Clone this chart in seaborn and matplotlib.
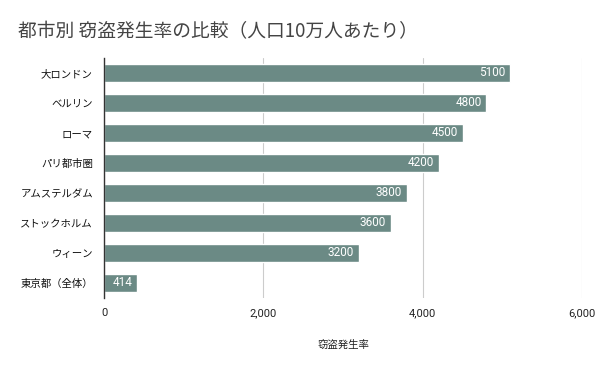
import matplotlib
matplotlib.use('Agg')
import matplotlib.pyplot as plt
import seaborn as sns
import pandas as pd
from matplotlib.ticker import FuncFormatter

# データ
cities = ['大ロンドン', 'ベルリン', 'ローマ', 'パリ都市圏', 'アムステルダム',
          'ストックホルム', 'ウィーン', '東京都（全体）']
rates = [5100, 4800, 4500, 4200, 3800, 3600, 3200, 414]

df = pd.DataFrame({'city': cities, 'rate': rates})

sns.set_theme(style='white')
plt.rcParams['font.family'] = ['Noto Sans CJK JP', 'DejaVu Sans']

fig = plt.figure(figsize=(6, 3.71), dpi=100)
ax = fig.add_axes([104 / 600, 1 - 298 / 371, (582 - 104) / 600, (298 - 58) / 371])

sns.barplot(data=df, y='city', x='rate', color='#6b8a85', saturation=1,
            width=0.62, ax=ax, orient='h')

for i, v in enumerate(rates):
    ax.text(v - 60, i, str(v), ha='right', va='center', color='white',
            fontsize=8.5, family=['Roboto', 'DejaVu Sans'])

ax.set_xlim(0, 6000)
ax.set_xticks([0, 2000, 4000, 6000])
ax.xaxis.set_major_formatter(FuncFormatter(lambda x, p: f'{int(x):,}'))
ax.grid(axis='x', color='#cccccc', linewidth=0.8)
ax.set_axisbelow(True)
for s in ['top', 'right', 'bottom']:
    ax.spines[s].set_visible(False)
ax.spines['left'].set_color('#333333')
ax.spines['left'].set_linewidth(1)
ax.tick_params(axis='y', length=0, labelsize=7.5, colors='#111111', pad=8)
ax.tick_params(axis='x', length=0, labelsize=8, colors='#222222', pad=7)
for lbl in ax.get_xticklabels():
    lbl.set_family(['Roboto', 'DejaVu Sans'])
ax.set_ylabel('')
ax.set_xlabel('窃盗発生率', fontsize=7.5, color='#222222', labelpad=16)

fig.text(18 / 600, 1 - 32 / 371, '都市別 窃盗発生率の比較（人口10万人あたり）',
         fontsize=13.5, color='#444444', va='center', ha='left')

fig.savefig('out.png', dpi=100)
